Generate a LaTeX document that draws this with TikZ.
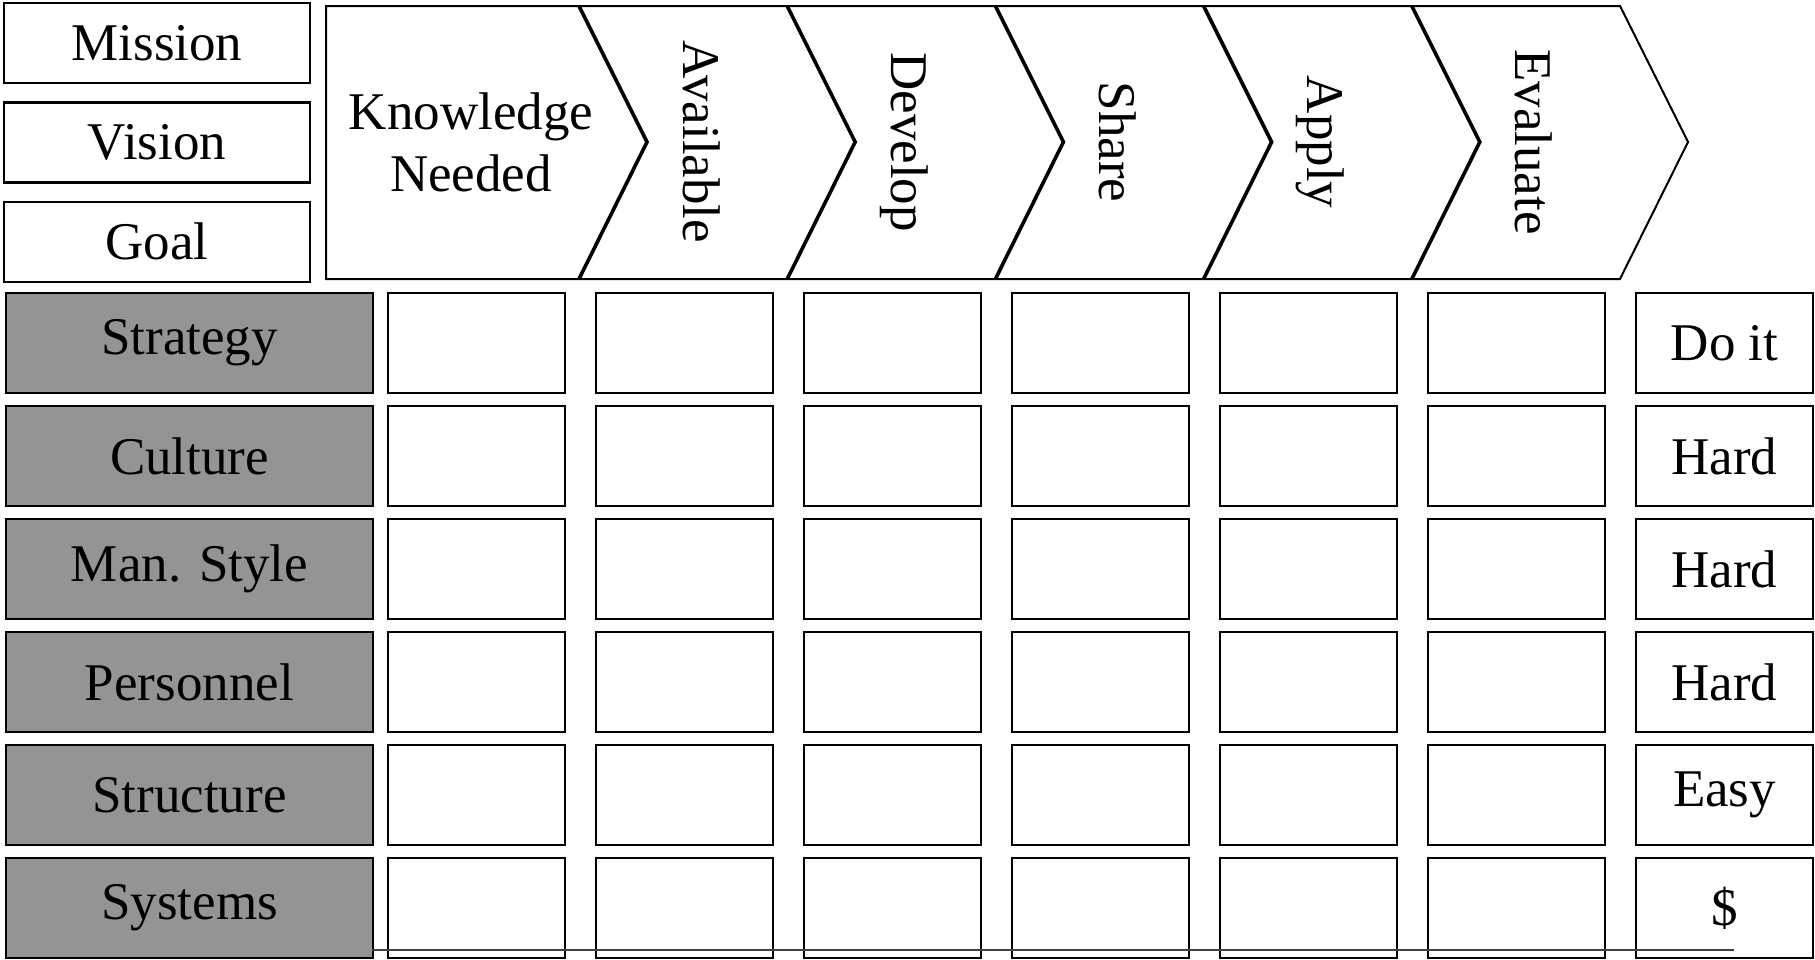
\documentclass[tikz,border=0pt]{standalone}
\usepackage{fontspec}
\setmainfont{Liberation Serif}
\usetikzlibrary{positioning, calc}

\begin{document}
\begin{tikzpicture}[
      x=0.5pt, y=-0.5pt,
      every node/.style={font=\fontsize{26.5}{31}\selectfont},
      topbox/.style={draw, line width=1.2pt, minimum width=153pt, minimum height=40pt, inner sep=0pt},
      rowlabel/.style={draw, line width=1.4pt, fill=black!42, minimum width=183.5pt, minimum height=50pt, inner sep=0pt},
      cell/.style={draw, line width=1.2pt, minimum width=88.5pt, minimum height=50pt, inner sep=0pt},
      stage/.style={rotate=-90, anchor=base, inner sep=0pt},
      chev/.style={draw, line width=1.8pt, line join=miter},
      node distance=8.5pt
  ]
  \useasboundingbox (0,0) rectangle (1815,959);

  \node[topbox] (mission) at (157,43) {Mission};
  \node[topbox, below=of mission] (vision) {Vision};
  \node[topbox, below=of vision] (goal) {Goal};

  % process band
  \draw[line width=1pt, line join=miter] (326,6) -- (1620,6) -- (1688,142) -- (1620,279) -- (326,279) -- cycle;
  \foreach \i in {0,...,4}
    \draw[chev] (579+208.2*\i,6) -- (647+208.2*\i,142) -- (579+208.2*\i,279);
  \node[align=center] (needed) at (471,142) {Knowledge\\Needed};
  \foreach \name [count=\i from 0] in {Available, Develop, Share, Apply, Evaluate}
    \node[stage] (stage\i) at (683+208.2*\i,142) {\name};

  % levers and cells
  \foreach \lab/\rate [count=\r from 0] in {Strategy/Do it, Culture/Hard, Man. Style/Hard, Personnel/Hard, Structure/Easy, Systems/\$} {
    \node[rowlabel] (row\r) at (189.5,343+113*\r) {\lab};
    \foreach \c in {1,...,6}
      \node[cell] (cell\r-\c) at (268.5+208*\c,343+113*\r) {};
    \node[cell] (rate\r) at (1724.5,343+113*\r) {\rate};
  }

  \coordinate (rulestart) at (372,950);
  \coordinate (ruleend) at (1734,950);
  \draw[line width=0.6pt, black!75] (rulestart) -- (ruleend);
\end{tikzpicture}
\end{document}
